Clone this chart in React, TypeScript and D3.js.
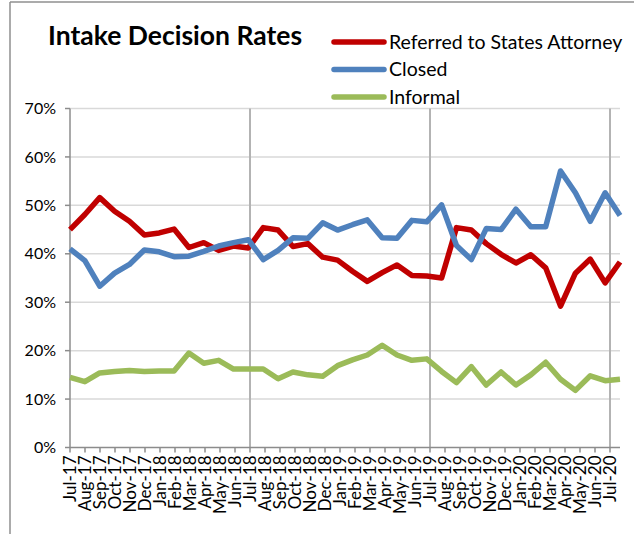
import React from 'react';
import { scalePoint, scaleLinear, line } from 'd3';

// axis labels (Jul-17 .. Jul-20)
const tickLabels = [
  'Jul-17', 'Aug-17', 'Sep-17', 'Oct-17', 'Nov-17', 'Dec-17', 'Jan-18', 'Feb-18', 'Mar-18', 'Apr-18',
  'May-18', 'Jun-18', 'Jul-18', 'Aug-18', 'Sep-18', 'Oct-18', 'Nov-18', 'Dec-18', 'Jan-19', 'Feb-19',
  'Mar-19', 'Apr-19', 'May-19', 'Jun-19', 'Jul-19', 'Aug-19', 'Sep-19', 'Oct-19', 'Nov-19', 'Dec-19',
  'Jan-20', 'Feb-20', 'Mar-20', 'Apr-20', 'May-20', 'Jun-20', 'Jul-20',
];
// the series run one month past the last label
const months = [...tickLabels, 'Aug-20'];

const referred = [
  45.0, 48.1, 51.6, 48.8, 46.7, 43.9, 44.3, 45.1, 41.3, 42.3, 40.7, 41.6, 41.2, 45.4, 44.9, 41.5,
  42.1, 39.3, 38.7, 36.4, 34.3, 36.1, 37.7, 35.5, 35.4, 35.0, 45.4, 44.9, 42.1, 39.9, 38.1, 39.8,
  37.1, 29.2, 36.0, 38.9, 34.0, 38.3,
];
const closed = [
  41.0, 38.6, 33.3, 36.0, 37.8, 40.8, 40.4, 39.4, 39.5, 40.5, 41.6, 42.3, 42.9, 38.8, 40.7, 43.3,
  43.2, 46.4, 44.9, 46.0, 47.0, 43.3, 43.2, 46.9, 46.6, 50.1, 41.7, 38.8, 45.2, 45.0, 49.2, 45.6,
  45.6, 57.1, 52.6, 46.7, 52.6, 47.9,
];
const informal = [
  14.5, 13.6, 15.4, 15.7, 15.9, 15.7, 15.8, 15.8, 19.5, 17.4, 18.0, 16.2, 16.2, 16.2, 14.2, 15.6,
  15.0, 14.7, 16.9, 18.1, 19.1, 21.1, 19.1, 18.0, 18.3, 15.7, 13.4, 16.7, 12.9, 15.6, 12.9, 15.0,
  17.6, 14.1, 11.8, 14.8, 13.8, 14.1,
];

const yTicks = [0, 10, 20, 30, 40, 50, 60, 70];
const yearMarks = ['Jul-18', 'Jul-19', 'Jul-20'];

const series = [
  { name: 'Referred to States Attorney', values: referred, color: '#C00000' },
  { name: 'Closed', values: closed, color: '#4F81BD' },
  { name: 'Informal', values: informal, color: '#9BBB59' },
];

const W = 634;
const H = 534;
const left = 70;
const right = 620;
const top = 108.5;
const bottom = 447.5;
const font = 'Lato, "Open Sans", sans-serif';

export default function App() {
  const x = scalePoint<string>().domain(months).range([left, right]);
  const xTick = scalePoint<string>().domain(tickLabels).range([left, 610]);
  const y = scaleLinear().domain([0, 70]).range([bottom, top]);

  const path = line<number>()
    .x((_, i) => x(months[i]) as number)
    .y(d => y(d));

  return (
    <svg width={W} height={H} style={{ position: 'absolute', left: 0, top: 0, background: '#fff' }}
      fontFamily={font}>
      {/* chart frame */}
      <line x1={10} x2={W} y1={2} y2={2} stroke="#8f8f8f" strokeWidth={1.5} />
      <line x1={10} x2={10} y1={2} y2={H} stroke="#8f8f8f" strokeWidth={1.5} />

      <text x={48} y={45} fontSize={26.5} fontWeight="bold" fill="#000">Intake Decision Rates</text>

      {/* legend */}
      {series.map((s, i) => (
        <g key={s.name} transform={`translate(0, ${42 + i * 27.5})`}>
          <line x1={334} x2={384} stroke={s.color} strokeWidth={5.5} strokeLinecap="round" />
          <text x={389} y={0} dy="0.35em" fontSize={19.5} fill="#000">{s.name}</text>
        </g>
      ))}

      {/* horizontal gridlines */}
      {yTicks.filter(t => t > 0).map(t => (
        <line key={t} x1={left} x2={right} y1={y(t)} y2={y(t)} stroke="#d9d9d9" strokeWidth={1.5} />
      ))}
      {/* vertical year gridlines */}
      {yearMarks.map(m => (
        <line key={m} x1={xTick(m)} x2={xTick(m)} y1={top} y2={bottom} stroke="#b3b3b3" strokeWidth={2} />
      ))}

      {/* y axis */}
      <line x1={left} x2={left} y1={top} y2={bottom} stroke="#8c8c8c" strokeWidth={1.5} />
      {yTicks.map(t => (
        <g key={t}>
          <line x1={left - 5} x2={left} y1={y(t)} y2={y(t)} stroke="#8c8c8c" strokeWidth={1.5} />
          <text x={56} y={y(t)} dy="0.35em" textAnchor="end" fontSize={16} fill="#000">{t}%</text>
        </g>
      ))}

      {/* x axis */}
      <line x1={left} x2={right} y1={bottom} y2={bottom} stroke="#8c8c8c" strokeWidth={1.5} />
      {tickLabels.map(m => (
        <g key={m} transform={`translate(${xTick(m)}, ${bottom})`}>
          <line y1={0} y2={5} stroke="#8c8c8c" strokeWidth={1.5} />
          <text transform="rotate(-90)" x={-8} y={0} dy="0.35em" textAnchor="end" fontSize={17} fill="#000">{m}</text>
        </g>
      ))}

      {/* series */}
      {series.map(s => (
        <path key={s.name} d={path(s.values) || ''} fill="none" stroke={s.color} strokeWidth={5.5}
          strokeLinejoin="round" />
      ))}
    </svg>
  );
}
